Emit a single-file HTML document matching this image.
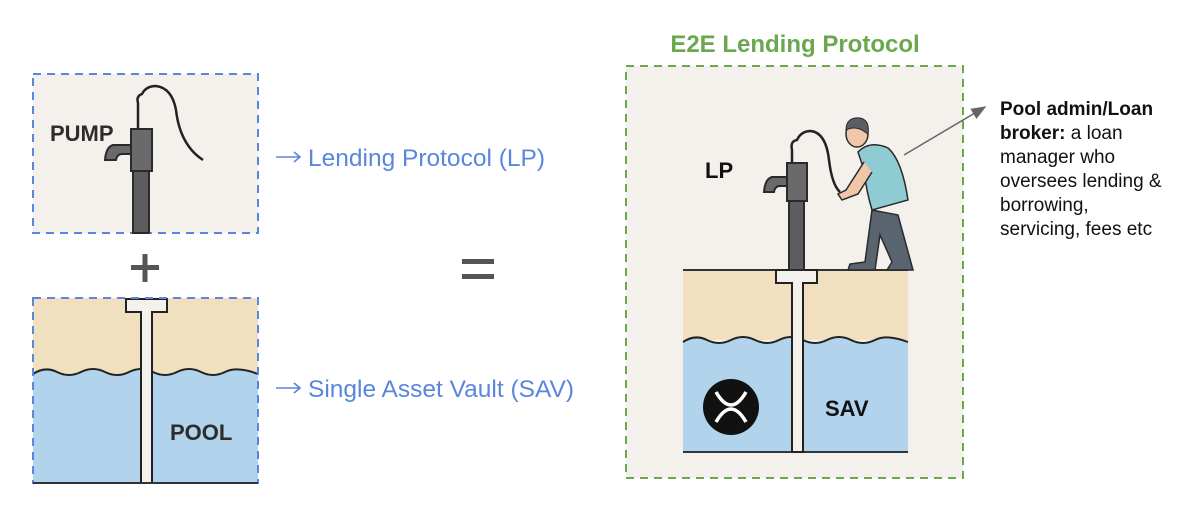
<!DOCTYPE html>
<html><head><meta charset="utf-8"><style>
html,body{margin:0;padding:0;background:#fff;width:1200px;height:526px;overflow:hidden}
svg{display:block}
text{font-family:"Liberation Sans",sans-serif}
</style></head><body>
<svg width="1200" height="526" viewBox="0 0 1200 526" xmlns="http://www.w3.org/2000/svg">
<defs><marker id="ah" markerWidth="10" markerHeight="8" refX="9" refY="4" orient="auto"><path d="M0,0 L10,4 L0,8 z" fill="#666"/></marker></defs>
<rect x="33" y="74" width="225" height="159" fill="#f4f1ec" stroke="#5b86dd" stroke-width="2" stroke-dasharray="8,6"/>
<text x="50" y="141" font-size="22" font-weight="bold" fill="#2d2d2d">PUMP</text>
<path d="M138,128 L138,103 Q136,96 142,94 Q146,86 156,86 Q172,88 176,110 Q180,145 203,160" fill="none" stroke="#222" stroke-width="2.5"/>
<rect x="133" y="170" width="16" height="63" fill="#5d5d60" stroke="#2a2a2a" stroke-width="2"/>
<rect x="131" y="129" width="21" height="42" fill="#6a6a6d" stroke="#2a2a2a" stroke-width="2"/>
<path d="M131,145 L113,145 Q106,147 105,160 L116,160 Q117,154 122,154 L131,154 z" fill="#6a6a6d" stroke="#2a2a2a" stroke-width="2"/>
<rect x="131" y="265" width="28" height="5" fill="#555"/>
<rect x="142.5" y="254" width="5" height="28" fill="#555"/>
<rect x="33" y="298" width="225" height="76" fill="#f1e0c0"/>
<path d="M33,374 Q45,366 57,372 T81,372 T105,372 T129,372 T153,372 T177,372 T201,372 T225,372 T258,374 L258,483 L33,483 z" fill="#b1d3ec"/>
<path d="M33,374 Q45,366 57,372 T81,372 T105,372 T129,372 T153,372 T177,372 T201,372 T225,372 T258,374" fill="none" stroke="#222" stroke-width="2"/>
<path d="M126,299 L167,299 L167,312 L152,312 L152,483 L141,483 L141,312 L126,312 z" fill="#f4f1ec" stroke="#222" stroke-width="2"/>
<rect x="33" y="298" width="225" height="185" fill="none" stroke="#5b86dd" stroke-width="2" stroke-dasharray="8,6"/>
<line x1="33" y1="483" x2="258" y2="483" stroke="#333" stroke-width="2"/>
<text x="170" y="440" font-size="22" font-weight="bold" fill="#2d2d2d">POOL</text>
<g stroke="#5b86dd" stroke-width="1.6" fill="none"><path d="M276,157 L299,157 M294,152 L300,157 L294,162"/><path d="M276,388 L299,388 M294,383 L300,388 L294,393"/></g>
<text x="308" y="166" font-size="24.5" fill="#5b86dd">Lending Protocol (LP)</text>
<text x="308" y="397" font-size="24.5" fill="#5b86dd">Single Asset Vault (SAV)</text>
<rect x="462" y="259" width="32" height="5" fill="#555"/>
<rect x="462" y="274" width="32" height="5" fill="#555"/>
<text x="795" y="52" font-size="24" font-weight="bold" fill="#6aa84f" text-anchor="middle">E2E Lending Protocol</text>
<rect x="626" y="66" width="337" height="412" fill="#f4f1ec" stroke="#6aa84f" stroke-width="2" stroke-dasharray="8,6"/>
<rect x="683" y="270" width="225" height="70" fill="#f1e0c0"/>
<path d="M683,342 Q695,334 707,340 T731,340 T755,340 T779,340 T803,340 T827,340 T851,340 T875,340 T908,342 L908,452 L683,452 z" fill="#b1d3ec"/>
<path d="M683,342 Q695,334 707,340 T731,340 T755,340 T779,340 T803,340 T827,340 T851,340 T875,340 T908,342" fill="none" stroke="#222" stroke-width="2"/>
<line x1="683" y1="270" x2="908" y2="270" stroke="#333" stroke-width="2"/>
<line x1="683" y1="452" x2="908" y2="452" stroke="#333" stroke-width="2"/>
<path d="M776,270 L817,270 L817,283 L803,283 L803,452 L792,452 L792,283 L776,283 z" fill="#f4f1ec" stroke="#222" stroke-width="2"/>
<text x="705" y="178" font-size="22" font-weight="bold" fill="#111">LP</text>
<path d="M792,163 L792,150 Q790,141 797,140 Q801,131 811,131 Q826,133 829,160 Q832,185 840,192" fill="none" stroke="#222" stroke-width="2.5"/>
<rect x="789" y="198" width="15" height="72" fill="#5d5d60" stroke="#2a2a2a" stroke-width="2"/>
<rect x="787" y="163" width="20" height="38" fill="#6a6a6d" stroke="#2a2a2a" stroke-width="2"/>
<path d="M787,177 L772,177 Q765,179 764,192 L774,192 Q775,186 780,186 L787,186 z" fill="#6a6a6d" stroke="#2a2a2a" stroke-width="2"/>
<path d="M872,210 L865,262 L850,264 L848,270 L875,270 L880,235 L892,262 L887,270 L913,270 L898,215 Z" fill="#5a6470" stroke="#2a2a2a" stroke-width="1.5"/>
<path d="M858,152 Q870,140 888,148 Q902,160 908,200 L872,210 Q866,190 864,170 Z" fill="#8ecbd2" stroke="#2a2a2a" stroke-width="1.5"/>
<path d="M864,162 L846,190 L838,194 L842,200 L858,194 L872,172" fill="#f2c6a8" stroke="#2a2a2a" stroke-width="1.5"/>
<ellipse cx="857" cy="134" rx="11" ry="13" fill="#f2c6a8" stroke="#2a2a2a" stroke-width="1.5"/>
<path d="M846,130 Q846,117 860,118 Q870,120 868,134 L862,130 Q854,126 846,130 z" fill="#5a5f66" stroke="#2a2a2a" stroke-width="1"/>
<circle cx="731" cy="407" r="28" fill="#111"/>
<path d="M716,392 Q731,418 746,392 M716,422 Q731,396 746,422" fill="none" stroke="#fff" stroke-width="3.5"/>
<text x="825" y="416" font-size="22" font-weight="bold" fill="#111">SAV</text>
<line x1="904" y1="155" x2="985" y2="107" stroke="#666" stroke-width="1.5" marker-end="url(#ah)"/>
<g font-size="19" fill="#111">
<text x="1000" y="115" font-weight="bold">Pool admin/Loan</text>
<text x="1000" y="139"><tspan font-weight="bold">broker:</tspan> a loan</text>
<text x="1000" y="163">manager who</text>
<text x="1000" y="187">oversees lending &amp;</text>
<text x="1000" y="211">borrowing,</text>
<text x="1000" y="235">servicing, fees etc</text>
</g>
</svg>
</body></html>
